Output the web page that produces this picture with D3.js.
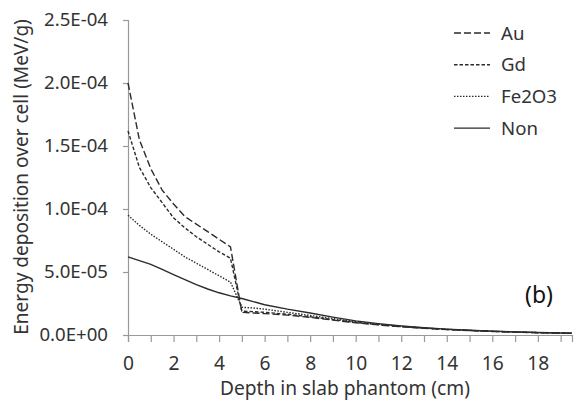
<!DOCTYPE html>
<html>
<head>
<meta charset="utf-8">
<script src="https://cdn.jsdelivr.net/npm/d3@7"></script>
<style>
  body { margin: 0; background: #fff; overflow: hidden; }
  svg { display: block; }
  svg text { font-family: 'Noto Sans', 'Open Sans', sans-serif; fill: #333; }
</style>
</head>
<body>
<svg width="576" height="406"></svg>
<script>
// depth in slab phantom (cm)
var depth = [0, 0.5, 1, 1.5, 2, 2.5, 3, 3.5, 4, 4.5, 5, 5.5, 6, 7, 8, 9, 10, 11, 12, 13, 14, 15, 16, 17, 18, 19, 19.5];

// energy deposition over cell (MeV/g)
var au =    [2.0e-4, 1.55e-4, 1.32e-4, 1.15e-4, 1.04e-4, 9.4e-5, 8.8e-5, 8.2e-5, 7.6e-5, 7.0e-5, 1.8e-5, 1.75e-5, 1.7e-5, 1.58e-5, 1.4e-5, 1.18e-5, 9.7e-6, 8.0e-6, 6.5e-6, 5.3e-6, 4.3e-6, 3.5e-6, 2.8e-6, 2.3e-6, 1.8e-6, 1.5e-6, 1.4e-6];
var gd =    [1.62e-4, 1.33e-4, 1.17e-4, 1.05e-4, 9.3e-5, 8.5e-5, 7.8e-5, 7.2e-5, 6.6e-5, 6.1e-5, 1.9e-5, 1.85e-5, 1.8e-5, 1.65e-5, 1.45e-5, 1.22e-5, 1.0e-5, 8.2e-6, 6.7e-6, 5.5e-6, 4.4e-6, 3.6e-6, 2.9e-6, 2.3e-6, 1.9e-6, 1.5e-6, 1.4e-6];
var fe2o3 = [9.5e-5, 8.7e-5, 8.0e-5, 7.4e-5, 6.8e-5, 6.2e-5, 5.7e-5, 5.2e-5, 4.7e-5, 4.2e-5, 2.2e-5, 2.15e-5, 2.05e-5, 1.8e-5, 1.55e-5, 1.3e-5, 1.05e-5, 8.5e-6, 7.0e-6, 5.6e-6, 4.5e-6, 3.7e-6, 3.0e-6, 2.4e-6, 1.9e-6, 1.5e-6, 1.4e-6];
var non =   [6.2e-5, 5.9e-5, 5.6e-5, 5.2e-5, 4.8e-5, 4.4e-5, 4.0e-5, 3.65e-5, 3.35e-5, 3.1e-5, 2.9e-5, 2.65e-5, 2.4e-5, 2.05e-5, 1.75e-5, 1.42e-5, 1.12e-5, 9.0e-6, 7.2e-6, 5.8e-6, 4.7e-6, 3.8e-6, 3.1e-6, 2.5e-6, 2.0e-6, 1.6e-6, 1.5e-6];

var seriesNames = ['Au', 'Gd', 'Fe2O3', 'Non'];
var seriesValues = [au, gd, fe2o3, non];
var dashes = ['7,3', '3.5,2', '1.5,1.5', null];

var yTickValues = [0, 5e-5, 1e-4, 1.5e-4, 2e-4, 2.5e-4];
var yTickLabels = ['0.0E+00', '5.0E-05', '1.0E-04', '1.5E-04', '2.0E-04', '2.5E-04'];
var xTickValues = d3.range(0, 20);
var xLabelValues = d3.range(0, 20, 2);

var svg = d3.select('svg'),
  margin = { top: 20, right: 4, bottom: 71, left: 128 },
  innerWidth = 576 - margin.left - margin.right,
  innerHeight = 406 - margin.top - margin.bottom;

// pick a font size so that a sample string gets the width seen in the reference
function fitSize(sample, width) {
  var t = svg.append('text').attr('font-size', 20).text(sample);
  var w = t.node().getComputedTextLength();
  t.remove();
  return 20 * width / w;
}
var yTickSize = fitSize('2.5E-04', 64),
  xTickSize = fitSize('18', 22),
  xTitleSize = fitSize('Depth in slab phantom (cm)', 250),
  yTitleSize = fitSize('Energy deposition over cell (MeV/g)', 316),
  legendSize = fitSize('Fe2O3', 56),
  tagSize = fitSize('(b)', 28);

var xScale = d3.scaleLinear().domain([0, 19.5]).range([0, innerWidth]),
  yScale = d3.scaleLinear().domain([0, 2.5e-4]).range([innerHeight, 0]);

var g = svg.append('g').attr('transform', `translate(${margin.left}, ${margin.top})`);

var xAxis = d3.axisBottom(xScale)
  .tickValues(xTickValues)
  .tickSize(7)
  .tickPadding(15)
  .tickFormat((d) => d);
var yAxis = d3.axisLeft(yScale)
  .tickValues(yTickValues)
  .tickSize(5)
  .tickPadding(15)
  .tickFormat((d, i) => yTickLabels[i]);

var gx = g.append('g').attr('transform', 'translate(0,' + innerHeight + ')').call(xAxis);
var gy = g.append('g').call(yAxis);
[gx, gy].forEach(function (a) {
  a.select('.domain').attr('stroke', '#999').attr('stroke-width', 1.2);
  a.selectAll('.tick line').attr('stroke', '#999').attr('stroke-width', 1.2);
  a.selectAll('.tick text').attr('fill', '#333')
    .style('font-family', "'Noto Sans', sans-serif");
});
// minor ticks every 1 cm, labels only every 2 cm
gx.selectAll('.tick text').filter((d) => xLabelValues.indexOf(d) < 0).remove();
gx.selectAll('.tick text').attr('font-size', xTickSize).attr('dy', '0.35em')
  .attr('y', 28);
gy.selectAll('.tick text').attr('font-size', yTickSize);

var line = d3.line()
  .x((d, i) => xScale(depth[i]))
  .y((d) => yScale(d));

g.selectAll('path.series')
  .data(seriesValues)
  .enter()
  .append('path')
  .attr('class', 'series')
  .attr('d', line)
  .attr('fill', 'none')
  .attr('stroke', '#2b2b2b')
  .attr('stroke-width', 1.4)
  .attr('stroke-dasharray', (d, i) => dashes[i]);

// legend
var legend = svg.append('g').attr('transform', 'translate(454, 33)');
var items = legend.selectAll('g')
  .data(seriesNames)
  .enter()
  .append('g')
  .attr('transform', (d, i) => 'translate(0,' + i * 31.7 + ')');
items.append('line')
  .attr('x1', 0).attr('x2', 36)
  .attr('stroke', '#2b2b2b')
  .attr('stroke-width', 1.4)
  .attr('stroke-dasharray', (d, i) => dashes[i]);
items.append('text')
  .attr('x', 47)
  .attr('dy', '0.35em')
  .attr('font-size', legendSize)
  .text((d) => d);

// axis titles
svg.append('text')
  .attr('x', 345)
  .attr('y', 395)
  .attr('text-anchor', 'middle')
  .attr('font-size', xTitleSize)
  .text('Depth in slab phantom (cm)');

svg.append('text')
  .attr('transform', 'translate(28, 177) rotate(-90)')
  .attr('text-anchor', 'middle')
  .attr('font-size', yTitleSize)
  .text('Energy deposition over cell (MeV/g)');

svg.append('text')
  .attr('x', 525)
  .attr('y', 295)
  .attr('dy', '0.35em')
  .attr('font-size', tagSize)
  .style('fill', '#111')
  .text('(b)');
</script>
</body>
</html>
